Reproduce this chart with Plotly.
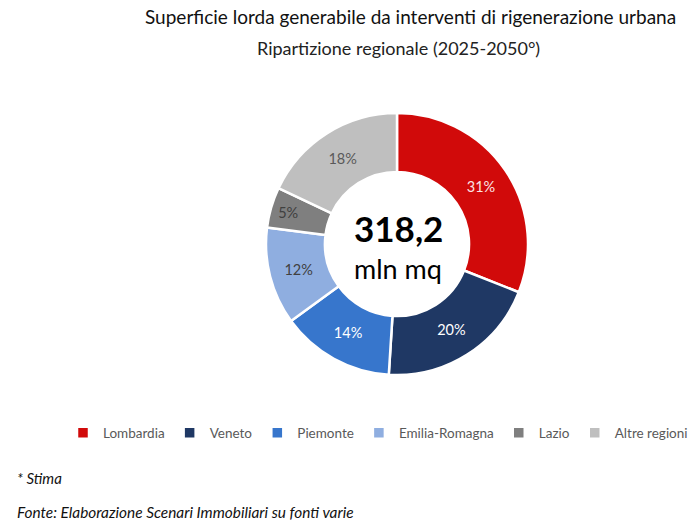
import plotly.graph_objects as go

regions = ["Lombardia", "Veneto", "Piemonte", "Emilia-Romagna", "Lazio", "Altre regioni"]
shares = [31, 20, 14, 12, 5, 18]
colors = ["#D10A0A", "#1F3864", "#3776CC", "#8FAEE0", "#7F7F7F", "#BFBFBF"]
text_colors = ["#FBE3E3", "#FFFFFF", "#FFFFFF", "#404040", "#404040", "#595959"]
total_label = "318,2"
unit_label = "mln mq"

FONT = "Lato, 'Open Sans', sans-serif"

fig = go.Figure(go.Pie(
    labels=regions,
    values=shares,
    texttemplate="%{value}%",
    textinfo="text",
    textposition="inside",
    insidetextorientation="horizontal",
    textfont=dict(family=FONT, size=14.5, color=text_colors),
    marker=dict(colors=colors, line=dict(color="white", width=2.5)),
    hole=0.55,
    sort=False,
    direction="clockwise",
    rotation=0,
    domain=dict(x=[266/700, 528/700], y=[1-375/530, 1-113/530]),
    showlegend=True,
))

fig.update_layout(
    width=700, height=530, autosize=False,
    margin=dict(l=0, r=0, t=0, b=0, autoexpand=False),
    paper_bgcolor="white", plot_bgcolor="white",
    font=dict(family=FONT, color="#595959"),
    legend=dict(
        orientation="h", x=0.99, xanchor="right", y=1-433/530, yanchor="middle",
        font=dict(size=13.5, color="#595959", family=FONT),
        itemwidth=30, tracegroupgap=0, traceorder="normal",
    ),
    annotations=[
        dict(text="Superficie lorda generabile da interventi di rigenerazione urbana",
             x=410/700, y=1-17/530, xref="paper", yref="paper", showarrow=False,
             font=dict(size=19, color="#111111", family=FONT), xanchor="center", yanchor="middle"),
        dict(text="Ripartizione regionale (2025-2050°)",
             x=399/700, y=1-48/530, xref="paper", yref="paper", showarrow=False,
             font=dict(size=18, color="#222222", family=FONT), xanchor="center", yanchor="middle"),
        dict(text="<b>" + total_label + "</b>",
             x=398/700, y=1-228/530, xref="paper", yref="paper", showarrow=False,
             font=dict(size=35, color="#000000", family=FONT), xanchor="center", yanchor="middle"),
        dict(text=unit_label,
             x=398/700, y=1-268/530, xref="paper", yref="paper", showarrow=False,
             font=dict(size=27, color="#000000", family=FONT), xanchor="center", yanchor="middle"),
        dict(text="<i>* Stima</i>",
             x=15/700, y=1-478/530, xref="paper", yref="paper", showarrow=False,
             font=dict(size=15, color="#111111", family=FONT), xanchor="left", yanchor="middle"),
        dict(text="<i>Fonte: Elaborazione Scenari Immobiliari su fonti varie</i>",
             x=15/700, y=1-512/530, xref="paper", yref="paper", showarrow=False,
             font=dict(size=15.4, color="#111111", family=FONT), xanchor="left", yanchor="middle"),
    ],
)

fig.write_html("out.html", config={"displayModeBar": False},
               post_script="document.body.style.margin='0px';")
